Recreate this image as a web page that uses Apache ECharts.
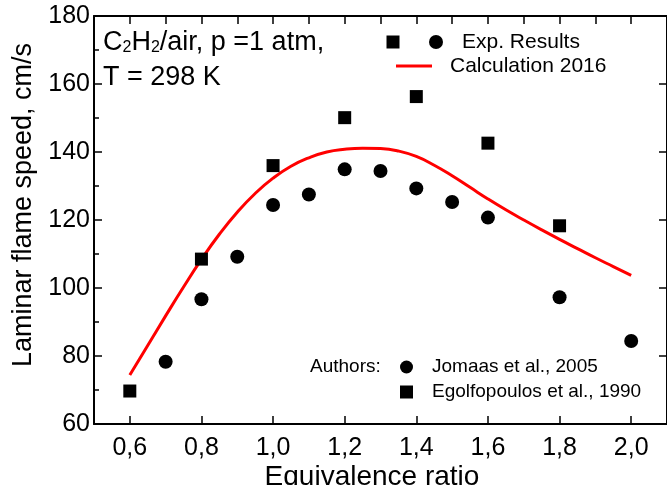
<!DOCTYPE html>
<html>
<head>
<meta charset="utf-8">
<script src="https://cdn.jsdelivr.net/npm/echarts@6/dist/echarts.min.js"></script>
<style>
html,body{margin:0;padding:0;background:#fff;}
#chart{width:667px;height:485px;}
</style>
</head>
<body>
<div id="chart"></div>
<script>
// ---- data ----
const xTickValues = [0.6, 0.8, 1.0, 1.2, 1.4, 1.6, 1.8, 2.0];
const yTickValues = [60, 80, 100, 120, 140, 160, 180];

const jomaasPhi   = [0.7, 0.8, 0.9, 1.0, 1.1, 1.2, 1.3, 1.4, 1.5, 1.6, 1.8, 2.0];
const jomaasSpeed = [78.3, 96.7, 109.2, 124.4, 127.5, 134.9, 134.4, 129.3, 125.3, 120.7, 97.3, 84.4];

const egolfPhi   = [0.6, 0.8, 1.0, 1.2, 1.4, 1.6, 1.8];
const egolfSpeed = [69.7, 108.5, 136.0, 150.1, 156.3, 142.6, 118.3];

const calcPhi   = [0.60, 0.65, 0.70, 0.75, 0.80, 0.85, 0.90, 0.95, 1.00, 1.05, 1.10, 1.15, 1.20, 1.25, 1.30,
                   1.35, 1.40, 1.45, 1.50, 1.55, 1.60, 1.65, 1.70, 1.75, 1.80, 1.85, 1.90, 1.95, 2.00];
const calcSpeed = [74.4, 83.1, 91.8, 100.3, 108.4, 115.8, 122.3, 127.8, 132.3, 135.8, 138.3, 140.0, 140.8, 141.1, 141.0,
                   140.3, 138.7, 136.1, 133.0, 129.6, 126.2, 123.0, 120.0, 117.1, 114.3, 111.6, 108.9, 106.3, 103.7];

const nameJomaas = 'Jomaas et al., 2005';
const nameEgolf  = 'Egolfopoulos et al., 1990';
const nameCalc   = 'Calculation 2016';

// ---- chart ----
const FONT = "'Liberation Sans', Arial, sans-serif";
const zip = (a, b) => a.map((v, i) => [v, b[i]]);
const chart = echarts.init(document.getElementById('chart'), null, {renderer: 'canvas'});

const axisLineStyle = {color: '#000', width: 2};
const tickStyle = {color: '#000', width: 1.5};

chart.setOption({
  backgroundColor: '#fff',
  animation: false,
  grid: {left: 94, top: 16, width: 576, height: 408, containLabel: false},
  xAxis: [
    {
      type: 'value', position: 'bottom', min: 0.5, max: 2.1,
      axisLine: {show: true, onZero: false, lineStyle: axisLineStyle},
      axisTick: {show: true, inside: true, length: 8, customValues: xTickValues, lineStyle: tickStyle},
      axisLabel: {
        show: true, customValues: xTickValues, margin: 12, color: '#000', fontSize: 25, fontFamily: FONT,
        formatter: v => Number(v).toFixed(1).replace('.', ',')
      },
      splitLine: {show: false}
    },
    {
      type: 'value', position: 'top', min: 0.5, max: 2.1, interval: 0.1,
      axisLine: {show: true, onZero: false, lineStyle: axisLineStyle},
      axisTick: {show: true, inside: true, length: 8, lineStyle: tickStyle},
      axisLabel: {show: false},
      splitLine: {show: false}
    }
  ],
  yAxis: [
    {
      type: 'value', position: 'left', min: 60, max: 180, interval: 20,
      axisLine: {show: true, onZero: false, lineStyle: axisLineStyle},
      axisTick: {show: true, inside: true, length: 8, lineStyle: tickStyle},
      minorTick: {show: true, splitNumber: 2, length: 5, lineStyle: tickStyle},
      axisLabel: {show: true, margin: 4, color: '#000', fontSize: 25, fontFamily: FONT},
      splitLine: {show: false}, minorSplitLine: {show: false}
    },
    {
      type: 'value', position: 'right', min: 60, max: 180, interval: 20,
      axisLine: {show: true, onZero: false, lineStyle: axisLineStyle},
      axisTick: {show: true, inside: true, length: 8, lineStyle: tickStyle},
      axisLabel: {show: false},
      splitLine: {show: false}
    }
  ],
  legend: [
    {
      orient: 'vertical', left: 400, top: 357, padding: 0,
      itemWidth: 13, itemHeight: 13, itemGap: 5, selectedMode: false,
      data: [{name: nameJomaas, icon: 'circle'}, {name: nameEgolf, icon: 'rect'}],
      itemStyle: {opacity: 1},
      textStyle: {color: '#000', fontSize: 19, lineHeight: 20, fontFamily: FONT, padding: [0, 0, 0, 14]}
    },
    {
      orient: 'horizontal', left: 396, top: 54, padding: 0,
      itemWidth: 36, itemHeight: 3, selectedMode: false,
      data: [{name: nameCalc, icon: 'rect'}],
      textStyle: {color: '#000', fontSize: 21, lineHeight: 24, fontFamily: FONT, padding: [0, 0, 0, 13]}
    }
  ],
  series: [
    {
      name: nameCalc, type: 'line', smooth: true, symbol: 'none', z: 2,
      xAxisIndex: 0, yAxisIndex: 0,
      lineStyle: {color: '#ff0000', width: 3}, itemStyle: {color: '#ff0000'},
      data: zip(calcPhi, calcSpeed)
    },
    {
      name: nameJomaas, type: 'scatter', symbol: 'circle', symbolSize: 14, z: 3,
      xAxisIndex: 0, yAxisIndex: 0,
      itemStyle: {color: '#000', opacity: 1},
      data: zip(jomaasPhi, jomaasSpeed)
    },
    {
      name: nameEgolf, type: 'scatter', symbol: 'rect', symbolSize: 13, z: 3,
      xAxisIndex: 0, yAxisIndex: 0,
      itemStyle: {color: '#000', opacity: 1},
      data: zip(egolfPhi, egolfSpeed)
    }
  ],
  graphic: [
    {
      type: 'text', x: 103, y: 41,
      style: {
        text: '{n|C}{s|2}{n|H}{s|2}{n|/air, p =1 atm,}',
        verticalAlign: 'middle', textAlign: 'left',
        rich: {
          n: {fontSize: 27, fontFamily: FONT, fill: '#000', lineHeight: 30, verticalAlign: 'bottom'},
          s: {fontSize: 16, fontFamily: FONT, fill: '#000', lineHeight: 16, verticalAlign: 'bottom'}
        }
      }
    },
    {
      type: 'text', x: 103, y: 78,
      style: {text: 'T = 298 K', fontSize: 27, fontFamily: FONT, fill: '#000', verticalAlign: 'middle'}
    },
    {type: 'rect', shape: {x: 386.5, y: 35.5, width: 13, height: 13}, style: {fill: '#000'}},
    {type: 'circle', shape: {cx: 436, cy: 42, r: 7}, style: {fill: '#000'}},
    {
      type: 'text', x: 462, y: 42,
      style: {text: 'Exp. Results', fontSize: 21, fontFamily: FONT, fill: '#000', verticalAlign: 'middle'}
    },
    {
      type: 'text', x: 310, y: 367,
      style: {text: 'Authors:', fontSize: 19, fontFamily: FONT, fill: '#000', verticalAlign: 'middle'}
    },
    {
      type: 'text', x: 24, y: 205, rotation: Math.PI / 2,
      style: {text: 'Laminar flame speed, cm/s', fontSize: 27, fontFamily: FONT, fill: '#000',
              textAlign: 'center', verticalAlign: 'middle'}
    },
    {
      type: 'text', x: 372, y: 477,
      style: {text: 'Equivalence ratio', fontSize: 28, fontFamily: FONT, fill: '#000',
              textAlign: 'center', verticalAlign: 'middle'}
    }
  ]
});
</script>
</body>
</html>
